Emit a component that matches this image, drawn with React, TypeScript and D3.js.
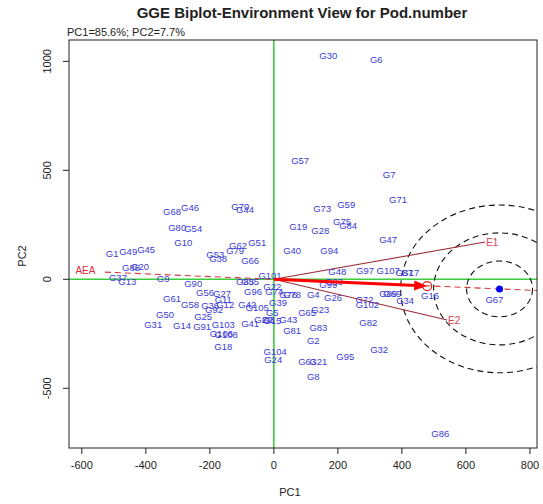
import React from "react";
import * as d3 from "d3";

// genotype scores (PC1, PC2)
const genoNames = [
  "G30", "G6", "G57", "G7", "G71", "G73", "G59", "G75", "G84", "G28", "G19", "G47", "G94", "G40",
  "G68", "G46", "G70", "G44", "G80", "G54", "G10", "G62", "G51", "G79", "G53", "G38", "G66",
  "G1", "G49", "G45", "G88", "G20", "G37", "G13", "G9", "G90", "G61", "G58", "G56", "G27",
  "G11", "G36", "G12", "G92", "G96", "G39", "G85", "G35", "G101", "G22", "G74", "G76", "G78",
  "G4", "G99", "G93", "G26", "G48", "G97", "G107", "G87", "G17", "G89", "G69", "G34", "G16",
  "G67", "G72", "G102", "G82", "G32", "G95", "G8", "G63", "G21", "G2", "G83", "G81", "G65",
  "G23", "G43", "G29", "G3", "G15", "G5", "G41", "G42", "G105", "G25", "G103", "G91", "G14",
  "G31", "G50", "G106", "G108", "G18", "G104", "G24", "G86",
];
const genoPC1 = [
  170, 320, 82, 360, 388, 151, 226, 213, 232, 145, 76, 357, 173, 57,
  -318, -262, -105, -90, -302, -252, -283, -112, -52, -121, -183, -174, -74,
  -505, -455, -399, -446, -418, -487, -458, -346, -252, -318, -262, -215, -162,
  -158, -199, -152, -187, -65, 13, -90, -74, -12, -5, 1, 45, 57,
  123, 170, 188, 185, 198, 285, 357, 407, 426, 357, 370, 410, 488,
  689, 283, 292, 295, 329, 223, 123, 104, 139, 123, 139, 57, 104,
  145, 45, -33, -18, -5, -5, -74, -83, -52, -221, -158, -224, -287,
  -377, -340, -164, -149, -158, 4, -2, 520,
];
const genoPC2 = [
  1024, 1010, 543, 478, 364, 322, 341, 263, 245, 222, 240, 180, 130, 130,
  309, 327, 332, 318, 235, 231, 167, 153, 167, 130, 111, 93, 84,
  116, 125, 134, 52, 56, 6, -12, 1, -22, -90, -118, -63, -67,
  -95, -122, -118, -141, -58, -109, -12, -12, 15, -35, -58, -72, -72,
  -72, -26, -12, -86, 33, 38, 38, 29, 29, -67, -67, -100, -77,
  -95, -95, -118, -200, -324, -356, -448, -379, -379, -283, -224, -237, -155,
  -141, -187, -187, -187, -191, -154, -205, -118, -131, -173, -209, -219, -214,
  -209, -164, -251, -256, -310, -333, -370, -706,
];

// environment vectors
const envNames = ["E1", "E2"];
const envPC1 = [660, 541];
const envPC2 = [171, -187];

// average environment point, arrow end and concentric rings
const aeaPoint = [705, -44];
const arrowEnd = [479, -31];
const ringRx = [103, 206, 309];
const ringRy = [128, 257, 385];

const xTicks = [-600, -400, -200, 0, 200, 400, 600, 800];
const yTicks = [-500, 0, 500, 1000];

const W = 543;
const H = 504;
const font = "'Liberation Sans', Arial, sans-serif";

export default function App() {
  const x = d3.scaleLinear().domain([-640, 822]).range([69, 537]);
  const y = d3.scaleLinear().domain([-774, 1098]).range([448, 40]);
  const [x0, x1] = x.range();
  const [y1, y0] = y.range();

  // AEA line through origin and the average environment
  const slope = aeaPoint[1] / aeaPoint[0];
  const aeaX0 = -528;
  const aeaX1 = 822;

  // arrow head geometry in pixels
  const ox = x(0), oy = y(0);
  const tx = x(arrowEnd[0]), ty = y(arrowEnd[1]);
  const ang = Math.atan2(ty - oy, tx - ox);
  const hl = 13, hw = 5;
  const head = [
    [tx, ty],
    [tx - hl * Math.cos(ang) + hw * Math.sin(ang), ty - hl * Math.sin(ang) - hw * Math.cos(ang)],
    [tx - hl * Math.cos(ang) - hw * Math.sin(ang), ty - hl * Math.sin(ang) + hw * Math.cos(ang)],
  ];

  return (
    <svg
      width={W}
      height={H}
      style={{ position: "absolute", left: 0, top: 0, background: "#fff" }}
      fontFamily={font}
    >
      <defs>
        <clipPath id="plot">
          <rect x={x0} y={y0} width={x1 - x0} height={y1 - y0} />
        </clipPath>
      </defs>

      <text x={302} y={18} textAnchor="middle" fontSize={15} fontWeight="bold" fill="#222">
        GGE Biplot-Environment View for Pod.number
      </text>
      <text x={67} y={36} fontSize={11} fill="#222">
        PC1=85.6%; PC2=7.7%
      </text>

      <g clipPath="url(#plot)">
        {/* reference axes */}
        <line x1={x(0)} x2={x(0)} y1={y0} y2={y1} stroke="#3ccc3c" strokeWidth={1.6} />
        <line x1={x0} x2={x1} y1={y(0)} y2={y(0)} stroke="#3ccc3c" strokeWidth={1.6} />

        {/* concentric rings around the ideal environment */}
        {ringRx.map((r, i) => (
          <ellipse
            key={i}
            cx={x(aeaPoint[0])}
            cy={y(aeaPoint[1])}
            rx={x(r) - x(0)}
            ry={y(0) - y(ringRy[i])}
            fill="none"
            stroke="#111"
            strokeWidth={1.1}
            strokeDasharray="6,4"
          />
        ))}

        {/* average environment axis */}
        <line
          x1={x(aeaX0)}
          y1={y(aeaX0 * slope)}
          x2={x(aeaX1)}
          y2={y(aeaX1 * slope)}
          stroke="#d23a3a"
          strokeWidth={1.1}
          strokeDasharray="6,4"
        />

        {/* environment vectors */}
        {envNames.map((e, i) => (
          <line key={e} x1={x(0)} y1={y(0)} x2={x(envPC1[i])} y2={y(envPC2[i])} stroke="#9b2c38" strokeWidth={1.1} />
        ))}

        {/* genotypes */}
        {genoNames.map((g, i) => (
          <text
            key={g}
            x={x(genoPC1[i])}
            y={y(genoPC2[i])}
            dy="0.35em"
            textAnchor="middle"
            fontSize={9.5}
            fill="#3b3bd6"
          >
            {g}
          </text>
        ))}

        {envNames.map((e, i) => (
          <text key={e} x={x(envPC1[i]) + 1} y={y(envPC2[i])} dy="0.35em" fontSize={10} fill="#e0404f">
            {e}
          </text>
        ))}

        <text x={x(-620)} y={y(-620 * slope)} dy="0.35em" fontSize={10} fill="#e02a3a">
          AEA
        </text>

        {/* arrow toward the ideal position */}
        <line x1={ox} y1={oy} x2={head[0][0] - hl * 0.8 * Math.cos(ang)} y2={ty - hl * 0.8 * Math.sin(ang)} stroke="#ff0000" strokeWidth={3} />
        <polygon points={head.map((p) => p.join(",")).join(" ")} fill="#ff0000" />
        <circle cx={tx} cy={ty} r={4.5} fill="none" stroke="#e02020" strokeWidth={1.2} />

        <circle cx={x(aeaPoint[0])} cy={y(aeaPoint[1])} r={3.5} fill="#0000ff" />
      </g>

      <rect x={x0} y={y0} width={x1 - x0} height={y1 - y0} fill="none" stroke="#222" strokeWidth={1} />

      {/* x axis */}
      {xTicks.map((t) => (
        <g key={t}>
          <line x1={x(t)} x2={x(t)} y1={y1} y2={y1 + 6} stroke="#222" />
          <text x={x(t)} y={y1 + 21} textAnchor="middle" fontSize={11} fill="#222">
            {t}
          </text>
        </g>
      ))}
      <text x={x(50)} y={496} textAnchor="middle" fontSize={11} fill="#222">
        PC1
      </text>

      {/* y axis */}
      {yTicks.map((t) => (
        <g key={t}>
          <line x1={x0 - 6} x2={x0} y1={y(t)} y2={y(t)} stroke="#222" />
          <text
            transform={`translate(${x0 - 18},${y(t)}) rotate(-90)`}
            textAnchor="middle"
            fontSize={11}
            fill="#222"
          >
            {t}
          </text>
        </g>
      ))}
      <text transform={`translate(26,${(y0 + y1) / 2 + 12}) rotate(-90)`} textAnchor="middle" fontSize={11} fill="#222">
        PC2
      </text>
    </svg>
  );
}
